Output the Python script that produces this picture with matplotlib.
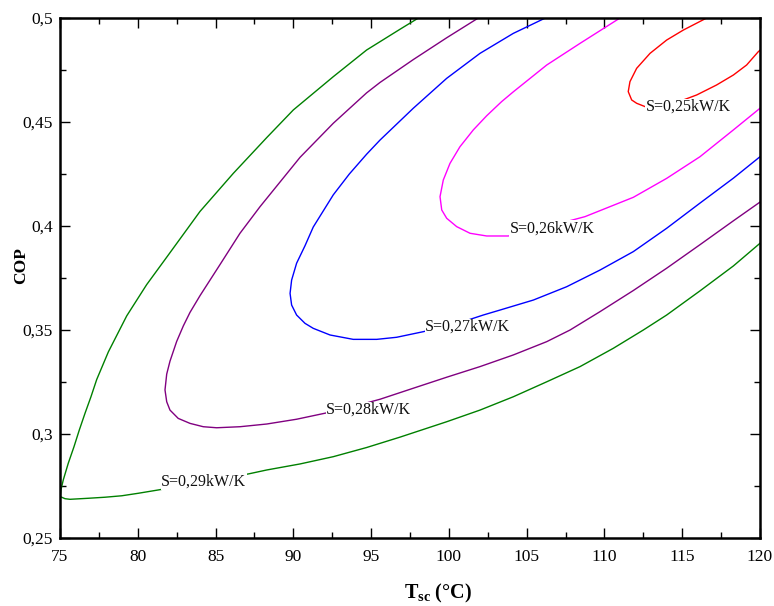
import matplotlib
matplotlib.use("Agg")
import matplotlib.pyplot as plt
from matplotlib.ticker import MultipleLocator, FuncFormatter

plt.rcParams['font.family'] = ['Liberation Serif', 'DejaVu Serif']
plt.rcParams['mathtext.fontset'] = 'custom'
plt.rcParams['mathtext.rm'] = 'Liberation Serif'
plt.rcParams['mathtext.bf'] = 'Liberation Serif:bold'

# ---- data (T_sc in °C, COP) ----
s029_x = [98.04, 96.86, 95.57, 94.71, 92.57, 90.0, 88.29, 86.14, 84.0, 81.86, 80.57, 79.29, 78.11,
          77.36, 76.99, 76.61, 76.24, 75.9, 75.53, 75.21, 75.06, 75.02,
          75.32, 75.64, 76.82, 77.89, 78.97, 80.03, 81.32, 84.2, 87.11, 88.29, 90.43, 92.57,
          94.71, 96.86, 99.86, 102.0, 104.14, 106.29, 108.43, 110.57, 112.5, 114.0, 116.14,
          118.29, 120.0]
s029_y = [0.5000, 0.4946, 0.4886, 0.4846, 0.4718, 0.4558, 0.4425, 0.4253, 0.4070, 0.3850, 0.3718, 0.3568, 0.3395,
          0.3262, 0.3179, 0.3100, 0.3019, 0.2939, 0.2859, 0.2779, 0.2731, 0.2699,
          0.2689, 0.2686, 0.2691, 0.2696, 0.2703, 0.2715, 0.2731, 0.2768, 0.2808, 0.2827, 0.2856, 0.2891,
          0.2935, 0.2985, 0.3059, 0.3115, 0.3179, 0.3251, 0.3324, 0.3412, 0.3500, 0.3572, 0.3688,
          0.3808, 0.3917]

s028_x = [101.89, 99.86, 97.71, 95.57, 94.71, 92.57, 90.43, 87.86, 86.57, 85.29, 84.0, 83.36, 82.93,
          82.5, 82.07, 81.86, 81.75, 81.86, 82.07, 82.6, 83.36, 84.21, 85.07, 86.57, 88.29, 90.21,
          92.04, 94.0, 95.57, 97.71, 99.86, 102.0, 104.14, 106.29, 107.79, 109.71, 111.86, 114.0,
          116.14, 118.29, 120.0]
s028_y = [0.5000, 0.4905, 0.4800, 0.4690, 0.4640, 0.4494, 0.4330, 0.4093, 0.3965, 0.3815, 0.3665, 0.3585, 0.3520,
          0.3445, 0.3350, 0.3288, 0.3212, 0.3155, 0.3115, 0.3075, 0.3051, 0.3035, 0.3030, 0.3035, 0.3048, 0.3071,
          0.3100, 0.3135, 0.3167, 0.3220, 0.3273, 0.3324, 0.3380, 0.3444, 0.3500, 0.3588, 0.3690, 0.3797,
          0.3910, 0.4025, 0.4115]

s027_x = [106.2, 104.14, 102.0, 99.86, 97.71, 95.57, 94.71, 93.6, 92.57, 91.28, 90.75, 90.21, 89.89, 89.79,
          89.89, 90.21, 90.75, 91.28, 92.36, 93.85, 95.36, 96.64, 98.36, 100.5, 102.21, 103.29,
          105.43, 107.57, 109.71, 111.86, 114.0, 116.14, 118.29, 120.0]
s027_y = [0.5000, 0.4926, 0.4830, 0.4710, 0.4566, 0.4413, 0.4345, 0.4250, 0.4150, 0.3995, 0.3905, 0.3821, 0.3740, 0.3676,
          0.3620, 0.3572, 0.3532, 0.3508, 0.3476, 0.3455, 0.3455, 0.3465, 0.3492, 0.3530, 0.3572, 0.3596,
          0.3644, 0.3708, 0.3788, 0.3877, 0.3989, 0.4110, 0.4230, 0.4333]

s026_x = [111.0, 108.43, 106.29, 104.14, 103.39, 102.43, 101.57, 100.71, 100.07, 99.64, 99.43, 99.54,
          99.86, 100.5, 101.36, 102.43, 103.82, 106.0, 108.75, 111.86, 114.0, 116.14, 118.29, 120.0]
s026_y = [0.5000, 0.4878, 0.4774, 0.4645, 0.4598, 0.4530, 0.4462, 0.4381, 0.4301, 0.4221, 0.4141, 0.4077,
          0.4037, 0.3997, 0.3965, 0.3952, 0.3952, 0.3990, 0.4045, 0.4138, 0.4229, 0.4333, 0.4462, 0.4566]

s025_x = [116.57, 115.07, 114.0, 112.93, 112.07, 111.64, 111.53, 111.75, 112.07, 112.61, 114.5,
          115.93, 117.21, 118.29, 119.14, 119.89, 120.0]
s025_y = [0.5000, 0.4942, 0.4894, 0.4830, 0.4758, 0.4694, 0.4646, 0.4606, 0.4590, 0.4574, 0.4590,
          0.4630, 0.4678, 0.4726, 0.4774, 0.4838, 0.4845]

curve_x = [s025_x, s026_x, s027_x, s028_x, s029_x]
curve_y = [s025_y, s026_y, s027_y, s028_y, s029_y]
curve_colors = ['#ff0000', '#ff00ff', '#0000ff', '#800080', '#008000']
labels = ['S=0,25kW/K', 'S=0,26kW/K', 'S=0,27kW/K', 'S=0,28kW/K', 'S=0,29kW/K']
label_x = [115.4, 106.65, 101.2, 94.86, 84.25]
label_y = [0.4572, 0.3989, 0.3514, 0.3115, 0.2771]

x_ticks = [75, 80, 85, 90, 95, 100, 105, 110, 115, 120]
y_ticks = [0.25, 0.30, 0.35, 0.40, 0.45, 0.50]

# ---- figure ----
fig = plt.figure(figsize=(7.74, 6.06), dpi=100)
ax = fig.add_axes([60/774, 68/606, 700/774, 520/606])

for xs, ys, c in zip(curve_x, curve_y, curve_colors):
    ax.plot(xs, ys, color=c, lw=1.0, zorder=2, solid_joinstyle='round')

for lx, ly, t in zip(label_x, label_y, labels):
    ax.text(lx, ly, t, ha='center', va='center', fontsize=11.5, color='#111111', zorder=3,
            bbox=dict(facecolor='white', edgecolor='none', pad=0.3))

ax.set_xlim(75, 120)
ax.set_ylim(0.25, 0.5)
ax.set_xticks(x_ticks)
ax.set_yticks(y_ticks)
ax.xaxis.set_minor_locator(MultipleLocator(2.5))
ax.yaxis.set_minor_locator(MultipleLocator(0.025))
ax.yaxis.set_major_formatter(FuncFormatter(lambda v, p: ('%g' % round(v, 3)).replace('.', ',')))
ax.xaxis.set_major_formatter(FuncFormatter(lambda v, p: '%d' % v))

ax.tick_params(which='both', direction='in', top=True, right=True, width=1.0, labelsize=12.5)
ax.tick_params(which='major', length=7)
ax.tick_params(which='minor', length=4)
ax.tick_params(axis='x', pad=8)
ax.tick_params(axis='y', pad=5)
for sp in ax.spines.values():
    sp.set_linewidth(1.8)

fig.text(21/774, 1 - 266/606, 'COP', rotation=90, ha='center', va='center',
         fontsize=12.5, fontweight='bold')
fig.text(438/774, 1 - 582/606, r'$\mathbf{T_{sc}}$ (°C)', ha='center', va='top',
         fontsize=14.5, fontweight='bold')

fig.savefig('out.png', dpi=100)
